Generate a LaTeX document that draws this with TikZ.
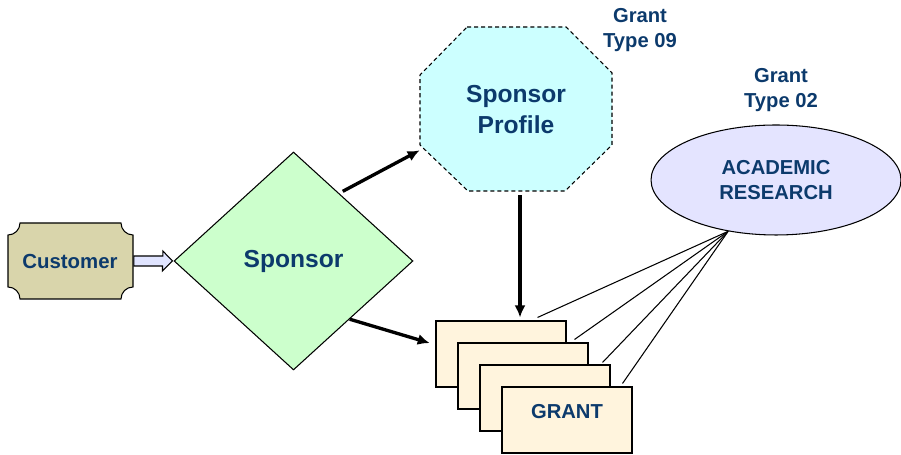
\documentclass[tikz,border=0pt]{standalone}
\usepackage{fontspec}
\setmainfont{Liberation Sans}
\usetikzlibrary{shapes.geometric,arrows.meta,calc}
\definecolor{txtblue}{HTML}{0C3A6C}
\definecolor{custfill}{HTML}{D9D5AB}
\definecolor{arrfill}{HTML}{E0E4FF}
\definecolor{sponsfill}{HTML}{CCFFCC}
\definecolor{proffill}{HTML}{CCFFFF}
\definecolor{cardfill}{HTML}{FFF4DD}
\definecolor{acadfill}{HTML}{E4E4FF}
\begin{document}
\begin{tikzpicture}[x=0.02cm,y=0.02cm,
		lbl/.style={text=txtblue,font=\bfseries\fontsize{11.5}{14.2}\selectfont,align=center},
		big/.style={text=txtblue,font=\bfseries\fontsize{14}{17.6}\selectfont,align=center},
		link/.style={line width=0.6pt,color=black},
		card/.style={draw,link,fill=cardfill,minimum width=2.6cm,minimum height=1.32cm,inner sep=0pt},
		arr/.style={-{Latex[length=0.24cm,width=0.22cm]},line width=1.9pt,color=black}]
			%					\draw[help lines, color=black!50, step=1cm,very thin](0,0)grid(901,455);
			\useasboundingbox (0,0) rectangle (901,455);
			
			% customer
			\draw [link, fill=custfill](20,232)--(121,232) arc(180:270:0.24cm)--(133,168) arc(90:180:0.24cm)--(20,156) arc(0:90:0.24cm)--(8,220) arc(270:360:0.24cm)--cycle;
			\node (cust) at (70,194)[lbl, font=\bfseries\fontsize{11.6}{13}\selectfont, minimum width=2.5cm, minimum height=1.52cm, inner sep=0pt]{Customer};
			
			% sponsor
			\node (spons) at (293.5,194)[diamond, draw, link, fill=sponsfill, minimum width=4.78cm, minimum height=4.36cm, inner sep=0pt, big]{Sponsor};
			\draw [link, fill=arrfill]($(cust.east)+(1,5)$)--++(29,0)--++(0,5)--($(spons.west)+(-1,0)$)--++(-10,-10)--++(0,5)--($(cust.east)+(1,-5)$)--cycle;
			
			% sponsor profile
			\draw [link, dash pattern=on 2.3pt off 1.7pt, fill=proffill](467,428)--(566,428)--(612,382)--(612,310)--(565,264)--(468,264)--(420,310)--(420,380)--cycle;
			\node (prof) at (516,345)[big, minimum width=3.84cm, minimum height=3.28cm, inner sep=0pt]{Sponsor\\Profile};
			\node (t09) at (640,425)[lbl]{Grant\\Type 09};
			
			% grants
			\node (g1) at (501,101)[card]{};
			\node (g2) at (523,79)[card]{};
			\node (g3) at (545,57)[card]{};
			\node (g4) at (567,35)[card]{};
			\node (gtxt) at (567,43)[lbl]{GRANT};
			
			% academic research
			\node (acad) at (776,275)[ellipse, draw, link, fill=acadfill, minimum width=5cm, minimum height=2.2cm, inner sep=0pt, lbl]{ACADEMIC\\RESEARCH};
			\node (t02) at (781,365)[lbl]{Grant\\Type 02};
			\coordinate (hub) at (acad.227);
			\draw [link](hub)--($(g1.north east)+(-29,3)$);
			\draw [link](hub)--($(g2.north east)+(-14,3)$);
			\draw [link](hub)--($(g3.north east)+(-8,2)$);
			\draw [link](hub)--($(g4.north east)+(-10,3)$);
			
			% arrows
			\draw [arr, shorten <=0.08cm](spons.56)--($(prof.south west)+(0,42)$);
			\draw [arr, shorten >=0.12cm](spons.-46)--(g1.172);
			\draw [arr, shorten <=0.06cm, shorten >=0.06cm]([xshift=0.08cm]prof.south)--([xshift=0.08cm]prof.south |- g1.north);
			
		\end{tikzpicture}
\end{document}
